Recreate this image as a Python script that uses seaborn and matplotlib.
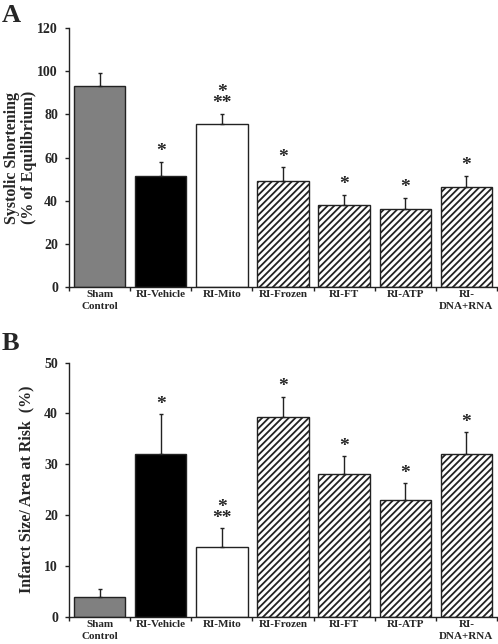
import numpy as np
import pandas as pd
import seaborn as sns
import matplotlib
matplotlib.use("Agg")
import matplotlib.pyplot as plt

# data
groups = ["Sham\nControl", "RI-Vehicle", "RI-Mito", "RI-Frozen", "RI-FT", "RI-ATP", "RI-\nDNA+RNA"]
shortening = [93.3, 51.3, 75.5, 49.0, 38.1, 36.0, 46.2]
shortening_se = [5.8, 6.7, 4.8, 6.5, 4.7, 5.3, 5.4]
infarct = [3.9, 32.0, 13.7, 39.4, 28.0, 23.0, 32.1]
infarct_se = [1.5, 7.9, 3.7, 3.9, 3.6, 3.3, 4.2]
marks = ["", "*", "*\n**", "*", "*", "*", "*"]
yticks_a = [0, 20, 40, 60, 80, 100, 120]
yticks_b = [0, 10, 20, 30, 40, 50]

bar_colors = ["#808080", "#000000", "#ffffff", "#ffffff", "#ffffff", "#ffffff", "#ffffff"]
hatched = [False, False, False, True, True, True, True]

sns.set_style("ticks")
plt.rcParams["font.family"] = ["Liberation Serif", "DejaVu Serif"]
plt.rcParams["font.weight"] = "bold"
plt.rcParams["hatch.linewidth"] = 1.3
plt.rcParams["hatch.color"] = "black"


def panel(ax, values, errors, yticks, ylabel, label_x):
    df = pd.DataFrame({"group": groups, "value": values})
    sns.barplot(data=df, x="group", y="value", hue="group", palette=bar_colors,
                legend=False, width=0.84, edgecolor="#222222", linewidth=1.0,
                saturation=1, ax=ax)
    centers = []
    for patch, h in zip(ax.patches, hatched):
        if h:
            patch.set_hatch("/////")
        centers.append(patch.get_x() + patch.get_width() / 2)
    centers = np.array(centers)
    ax.errorbar(centers, values, yerr=[np.zeros(len(values)), errors], fmt="none",
                ecolor="#222222", elinewidth=1.0, capsize=1.2, capthick=1.0)
    for x, v, e, m in zip(centers, values, errors, marks):
        if not m:
            continue
        ax.annotate(m, (x, v + e), xytext=(0, 1), textcoords="offset points",
                    ha="center", va="bottom", fontsize=14, fontweight="bold",
                    linespacing=0.55)

    ax.set_xlim(-0.5, len(groups) - 0.5)
    ax.set_ylim(yticks[0], yticks[-1])
    ax.set_yticks(yticks)
    ax.set_xticks(range(len(groups)))
    ax.set_xticklabels(groups, fontsize=8, fontweight="bold", linespacing=1.35)
    ax.set_xticks(np.arange(-0.5, len(groups), 1.0), minor=True)
    ax.tick_params(axis="x", which="major", length=0, pad=2.5)
    ax.tick_params(axis="x", which="minor", length=3, width=1, color="#222222")
    ax.tick_params(axis="y", length=3, width=1, pad=5, labelsize=10, color="#222222")
    for t in ax.get_yticklabels():
        t.set_fontweight("bold")
    ax.set_xlabel("")
    ax.set_ylabel(ylabel, fontsize=11.5, fontweight="bold", linespacing=1.1)
    ax.yaxis.set_label_coords(label_x, 0.5)
    sns.despine(ax=ax)
    for s in ["left", "bottom"]:
        ax.spines[s].set_linewidth(1.0)
        ax.spines[s].set_color("#222222")


fig = plt.figure(figsize=(4.98, 6.44), dpi=100)
ax_a = fig.add_axes([0.1386, 0.5548, 0.8594, 0.4012])
ax_b = fig.add_axes([0.1386, 0.0424, 0.8594, 0.3944])

panel(ax_a, shortening, shortening_se, yticks_a,
      "Systolic Shortening\n(% of Equilibrium)", -0.075)
panel(ax_b, infarct, infarct_se, yticks_b,
      "Infarct Size/ Area at Risk  (%)", -0.082)

fig.text(0.004, 0.994, "A", fontsize=19, fontweight="bold", va="top", ha="left")
fig.text(0.004, 0.484, "B", fontsize=19, fontweight="bold", va="top", ha="left")

fig.savefig("out.png", dpi=100)
